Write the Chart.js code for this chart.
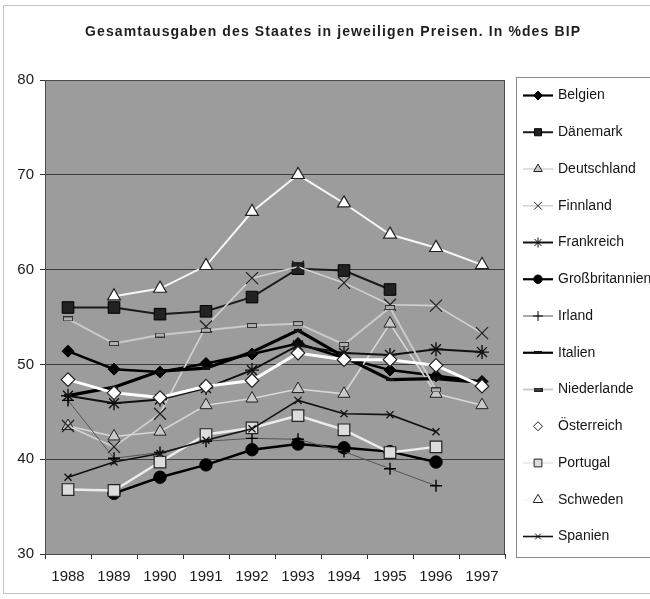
<!DOCTYPE html>
<html><head><meta charset="utf-8">
<script src="https://cdn.jsdelivr.net/npm/chart.js@4/dist/chart.umd.min.js"></script>
<style>html,body{margin:0;padding:0;background:#fff;overflow:hidden}</style>
</head><body>
<canvas id="c" width="650" height="599" style="display:block;width:650px;height:599px"></canvas>
<script>
const TITLE = 'Gesamtausgaben des Staates in jeweiligen Preisen. In %des BIP';
const years = ['1988','1989','1990','1991','1992','1993','1994','1995','1996','1997'];
const yTicks = [30, 40, 50, 60, 70, 80];
const countries = ['Belgien','Dänemark','Deutschland','Finnland','Frankreich','Großbritannien','Irland','Italien','Niederlande','Österreich','Portugal','Schweden','Spanien'];

const belgien         = [51.4, 49.5, 49.2, 50.1, 51.1, 52.2, 50.7, 49.4, 48.8, 48.2];
const daenemark       = [56.0, 56.0, 55.3, 55.6, 57.1, 60.1, 59.9, 57.9, null, null];
const deutschland     = [43.5, 42.4, 42.9, 45.7, 46.4, 47.4, 46.9, 54.3, 46.9, 45.7];
const finnland        = [43.5, 41.3, 44.8, 54.0, 59.1, 60.3, 58.6, 56.3, 56.2, 53.3];
const frankreich      = [46.7, 45.9, 46.3, 47.5, 49.4, 52.0, 51.2, 51.0, 51.6, 51.3];
const grossbritannien = [null, 36.4, 38.1, 39.4, 41.0, 41.6, 41.2, 40.8, 39.7, null];
const irland          = [46.2, 40.1, 40.7, 41.9, 42.2, 42.1, 40.8, 39.0, 37.2, null];
const italien         = [46.7, 47.6, 49.3, 49.6, 51.3, 53.6, 50.8, 48.4, 48.5, 48.1];
const niederlande     = [54.8, 52.2, 53.1, 53.6, 54.1, 54.3, 52.1, 56.0, 47.3, null];
const oesterreich     = [48.4, 47.0, 46.5, 47.7, 48.3, 51.2, 50.5, 50.5, 49.9, 47.7];
const portugal        = [36.8, 36.7, 39.7, 42.6, 43.3, 44.6, 43.1, 40.7, 41.3, null];
const schweden        = [null, 57.2, 58.0, 60.4, 66.1, 70.0, 67.0, 63.7, 62.3, 60.5];
const spanien         = [38.1, 39.7, 40.6, 42.0, 43.2, 46.2, 44.8, 44.7, 42.9, null];

const seriesData = [belgien, daenemark, deutschland, finnland, frankreich, grossbritannien, irland, italien, niederlande, oesterreich, portugal, schweden, spanien];

function dashMarker(w, h, fill, stroke) {
  const c = document.createElement('canvas');
  c.width = w; c.height = h;
  const x = c.getContext('2d');
  x.fillStyle = fill; x.fillRect(0, 0, w, h);
  x.strokeStyle = stroke; x.lineWidth = 1; x.strokeRect(0.5, 0.5, w - 1, h - 1);
  return c;
}
const nlMarker = dashMarker(10, 5, '#b0b0b0', '#333');
const nlMarkerSmall = dashMarker(9, 4, '#444', '#222');
const itMarker = dashMarker(8, 3, '#111', '#111');

// [lineColor, lineWidth, pointStyle, radius, pointFill, pointBorder, pointBorderWidth, legendRadius]
const styles = [
  ['#000', 2.5, 'rectRot', 6, '#000', '#000', 1, 4.5],
  ['#1a1a1a', 2, 'rect', 8.2, '#222', '#000', 1, 5],
  ['#d8d8d8', 1.6, 'triangle', 7, '#c8c8c8', '#222', 1, 5],
  ['#d2d2d2', 1.6, 'crossRot', 8.5, '#222', '#222', 1.3, 5.5],
  ['#111', 2, 'star', 7, '#111', '#111', 1.4, 5],
  ['#000', 2.5, 'circle', 6.2, '#000', '#000', 1, 4.2],
  ['#555', 1, 'cross', 6, '#000', '#000', 1.4, 5],
  ['#000', 3.2, itMarker, 4, '#000', '#000', 1, 4],
  ['#cacaca', 2, nlMarker, 5, '#b0b0b0', '#333', 1, 5],
  ['#ffffff', 3, 'rectRot', 6.8, '#ffffff', '#222', 1.2, 4.5],
  ['#ececec', 2.5, 'rect', 8.2, '#dcdcdc', '#222', 1.2, 5.5],
  ['#f6f6f6', 2, 'triangle', 7.4, '#ffffff', '#222', 1.2, 5.5],
  ['#111', 1.6, 'crossRot', 5, '#111', '#111', 1.3, 4]
];

const datasets = countries.map((name, i) => {
  const s = styles[i];
  return {
    label: name,
    data: seriesData[i],
    borderColor: s[0],
    borderWidth: s[1],
    pointStyle: s[2],
    pointRadius: s[3],
    pointHoverRadius: s[3],
    pointBackgroundColor: s[4],
    pointBorderColor: s[5],
    pointBorderWidth: s[6],
    tension: 0,
    fill: false,
    order: countries.length - i,
    legendRadius: s[7]
  };
});

const bgPlugin = {
  id: 'bgPlugin',
  beforeDraw(chart) {
    const { ctx, chartArea: a } = chart;
    ctx.save();
    ctx.fillStyle = '#ffffff';
    ctx.fillRect(0, 0, chart.width, chart.height);
    ctx.strokeStyle = '#c4c4c4';
    ctx.lineWidth = 1;
    ctx.strokeRect(3.5, 5.5, 700, 588);
    ctx.fillStyle = '#9c9c9c';
    ctx.fillRect(a.left, a.top, a.right - a.left, a.bottom - a.top);
    ctx.fillStyle = '#1e1e1e';
    ctx.font = 'bold 14px "Liberation Sans", Arial, sans-serif';
    ctx.textBaseline = 'middle';
    ctx.textAlign = 'left';
    const target = 495;
    const w0 = ctx.measureText(TITLE).width;
    const sp = (target - w0) / (TITLE.length - 1);
    let x = 85;
    for (const ch of TITLE) {
      ctx.fillText(ch, x, 32);
      x += ctx.measureText(ch).width + sp;
    }
    ctx.restore();
  },
  afterDatasetsDraw(chart) {
    const { ctx, chartArea: a } = chart;
    ctx.save();
    ctx.strokeStyle = '#4a4a4a';
    ctx.lineWidth = 1;
    ctx.strokeRect(Math.round(a.left) + 0.5, Math.round(a.top) + 0.5, Math.round(a.right - a.left) - 1, Math.round(a.bottom - a.top));
    ctx.restore();
  },
  afterDraw(chart) {
    const { ctx } = chart;
    ctx.save();
    ctx.strokeStyle = '#8a8a8a';
    ctx.lineWidth = 1;
    ctx.fillStyle = '#fff';
    ctx.fillRect(516.5, 77.5, 200, 480);
    ctx.strokeRect(516.5, 77.5, 200, 480);
    const helpers = Chart.helpers;
    chart.data.datasets.forEach((ds, i) => {
      const y = 95.5 + i * 36.75;
      ctx.strokeStyle = ds.borderColor;
      ctx.lineWidth = Math.min(ds.borderWidth, 2.2);
      ctx.beginPath();
      ctx.moveTo(523, y);
      ctx.lineTo(553, y);
      ctx.stroke();
      let ps = ds.pointStyle;
      if (ps === nlMarker) ps = nlMarkerSmall;
      if (ps instanceof HTMLCanvasElement) {
        ctx.drawImage(ps, 538 - ps.width / 2, y - ps.height / 2);
      } else if (helpers && helpers.drawPoint) {
        ctx.fillStyle = ds.pointBackgroundColor;
        ctx.strokeStyle = ds.pointBorderColor;
        ctx.lineWidth = 1;
        helpers.drawPoint(ctx, { pointStyle: ps, radius: ds.legendRadius, rotation: 0, borderWidth: 1 }, 538, y);
      }
      ctx.fillStyle = '#151515';
      ctx.font = '14px "Liberation Sans", Arial, sans-serif';
      ctx.textAlign = 'left';
      ctx.textBaseline = 'middle';
      ctx.fillText(ds.label, 558, y);
    });
    ctx.restore();
  }
};

new Chart(document.getElementById('c'), {
  type: 'line',
  data: { labels: years, datasets },
  options: {
    responsive: false,
    animation: false,
    devicePixelRatio: 1,
    layout: { padding: { left: 0, top: 80, right: 145, bottom: 0 } },
    plugins: { legend: { display: false }, title: { display: false }, tooltip: { enabled: false } },
    scales: {
      x: {
        offset: true,
        afterFit(s) { s.height = 45; },
        grid: { offset: true, drawOnChartArea: false, drawTicks: true, tickLength: 5, color: '#333', lineWidth: 1 },
        border: { display: true, color: '#333', width: 1 },
        ticks: { color: '#1a1a1a', font: { family: '"Liberation Sans", Arial, sans-serif', size: 15 }, padding: 9, maxRotation: 0, autoSkip: false }
      },
      y: {
        min: 30, max: 80,
        afterFit(s) { s.width = 45; },
        afterBuildTicks(s) { s.ticks = yTicks.map(v => ({ value: v })); },
        grid: { color: (c) => (c.tick && (c.tick.value === 30 || c.tick.value === 80)) ? 'rgba(0,0,0,0)' : '#3c3c3c', lineWidth: 1, drawTicks: true, tickLength: 5, tickColor: '#333' },
        border: { display: true, color: '#333', width: 1 },
        ticks: { color: '#1a1a1a', font: { family: '"Liberation Sans", Arial, sans-serif', size: 15 }, padding: 6 }
      }
    }
  },
  plugins: [bgPlugin]
});
</script>
</body></html>
